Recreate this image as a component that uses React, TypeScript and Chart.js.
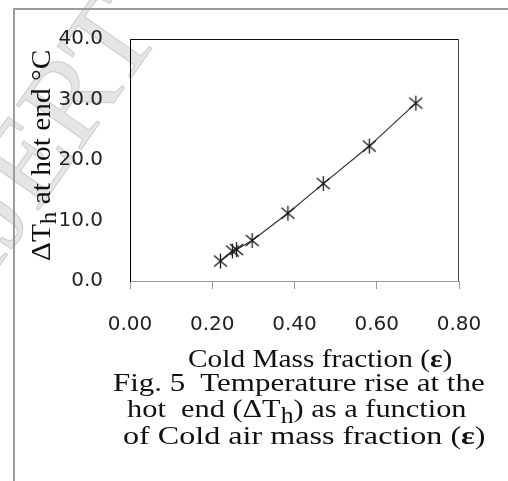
import React, { useEffect, useLayoutEffect, useRef } from 'react';
import { Chart, registerables } from 'chart.js';

Chart.register(...registerables);

// ---- data ----
const coldMassFraction = [0.22, 0.249, 0.259, 0.297, 0.384, 0.47, 0.582, 0.695];
const deltaTh = [3.3, 4.95, 5.2, 6.7, 11.2, 16.1, 22.3, 29.4];
const xTickValues = [0, 0.2, 0.4, 0.6, 0.8];
const yTickValues = [0, 10, 20, 30, 40];
const xAxisTitle = 'Cold Mass fraction (';
const yAxisTitleTail = ' at hot end °C';
const captionLines = ['Fig. 5  Temperature rise at the', 'hot  end (ΔT', ') as a function', 'of Cold air mass fraction ('];
const watermark = 'IJERT';

function makeAsterisk(): HTMLCanvasElement {
  const s = 17;
  const c = document.createElement('canvas');
  c.width = s;
  c.height = s;
  const g = c.getContext('2d')!;
  g.strokeStyle = '#1a1a1a';
  g.lineWidth = 1.3;
  const m = s / 2;
  g.beginPath();
  g.moveTo(m, m - 7.5);
  g.lineTo(m, m + 7.5);
  g.moveTo(m - 6.5, m - 5.5);
  g.lineTo(m + 6.5, m + 5.5);
  g.moveTo(m + 6.5, m - 5.5);
  g.lineTo(m - 6.5, m + 5.5);
  g.stroke();
  return c;
}

const framePlugin = {
  id: 'plotFrame',
  beforeDatasetsDraw(chart: any) {
    const { ctx, chartArea: a } = chart;
    ctx.save();
    ctx.lineWidth = 1;
    ctx.strokeStyle = '#111';
    ctx.beginPath();
    ctx.moveTo(a.left, a.top + 0.5);
    ctx.lineTo(a.right, a.top + 0.5);
    ctx.stroke();
    ctx.strokeStyle = '#444';
    ctx.beginPath();
    ctx.moveTo(a.right - 0.5, a.top);
    ctx.lineTo(a.right - 0.5, a.bottom);
    ctx.stroke();
    ctx.restore();
  },
};

const watermarkPlugin = {
  id: 'watermark',
  beforeDraw(chart: any) {
    const { ctx } = chart;
    ctx.save();
    ctx.translate(-13, 284);
    ctx.rotate((-55 * Math.PI) / 180);
    ctx.font = '120px "Liberation Serif"';
    ctx.fillStyle = 'rgba(170,170,170,0.30)';
    ctx.strokeStyle = 'rgba(150,150,150,0.40)';
    ctx.lineWidth = 1;
    ctx.textBaseline = 'alphabetic';
    ctx.fillText(watermark, 0, 0);
    ctx.strokeText(watermark, 0, 0);
    ctx.restore();
  },
};

const serif = '"Liberation Serif", "Times New Roman", serif';

function FitLine(props: { left: number; width: number; baseline: number; size: number; children: React.ReactNode }) {
  const { left, width, baseline, size, children } = props;
  const ref = useRef<HTMLDivElement | null>(null);
  useLayoutEffect(() => {
    const el = ref.current!;
    const natural = el.offsetWidth;
    el.style.transform = `scaleX(${width / natural})`;
  }, [width]);
  return (
    <div
      ref={ref}
      style={{
        position: 'absolute',
        left,
        top: baseline - 0.8375 * size,
        display: 'inline-block',
        fontFamily: serif,
        fontSize: size,
        lineHeight: `${size}px`,
        whiteSpace: 'pre',
        color: '#111',
        transformOrigin: '0 0',
      }}
    >
      {children}
    </div>
  );
}

function YTitle(props: { x: number; yStart: number; length: number; size: number; children: React.ReactNode }) {
  const { x, yStart, length, size, children } = props;
  const ref = useRef<HTMLDivElement | null>(null);
  useLayoutEffect(() => {
    const el = ref.current!;
    const natural = el.offsetWidth;
    const tx = x - 0.8375 * size;
    el.style.transform = `translate(${tx}px, ${yStart}px) rotate(-90deg) scaleX(${length / natural})`;
  }, [x, yStart, length, size]);
  return (
    <div
      ref={ref}
      style={{
        position: 'absolute',
        left: 0,
        top: 0,
        display: 'inline-block',
        transformOrigin: '0 0',
        fontFamily: serif,
        fontSize: size,
        lineHeight: `${size}px`,
        whiteSpace: 'pre',
        color: '#111',
      }}
    >
      {children}
    </div>
  );
}

const subStyle: React.CSSProperties = { fontSize: '0.85em', verticalAlign: '-0.28em', lineHeight: 0 };

export default function App() {
  const canvasRef = useRef<HTMLCanvasElement | null>(null);

  useEffect(() => {
    const canvas = canvasRef.current!;
    const star = makeAsterisk();
    const chart = new Chart(canvas, {
      type: 'scatter',
      data: {
        datasets: [
          {
            data: coldMassFraction.map((x, i) => ({ x, y: deltaTh[i] })),
            showLine: true,
            borderColor: '#333',
            borderWidth: 1.2,
            pointStyle: star as any,
            pointRadius: 7,
            tension: 0,
          },
        ],
      },
      options: {
        animation: false,
        responsive: false,
        maintainAspectRatio: false,
        layout: { padding: { top: 36, right: 49, left: 0, bottom: 0 } },
        plugins: { legend: { display: false }, tooltip: { enabled: false } },
        scales: {
          x: {
            type: 'linear',
            min: 0,
            max: 0.8,
            afterBuildTicks: (s: any) => {
              s.ticks = xTickValues.map((v) => ({ value: v }));
            },
            afterFit: (s: any) => {
              s.height = 200;
            },
            grid: { display: true, drawOnChartArea: false, drawTicks: true, tickLength: 8, color: '#9a9a9a' },
            border: { display: true, color: '#9a9a9a', width: 1 },
            ticks: {
              padding: 24,
              color: '#222',
              font: { family: '"DejaVu Sans"', size: 20 },
              maxRotation: 0,
              autoSkip: false,
              callback: (v: any) => Number(v).toFixed(2),
            },
          },
          y: {
            type: 'linear',
            min: 0,
            max: 40,
            afterBuildTicks: (s: any) => {
              s.ticks = yTickValues.map((v) => ({ value: v }));
            },
            afterFit: (s: any) => {
              s.width = 130;
            },
            grid: { display: false, drawTicks: false },
            border: { display: true, color: '#000', width: 1 },
            ticks: {
              padding: 27,
              color: '#222',
              font: { family: '"DejaVu Sans"', size: 20 },
              autoSkip: false,
              callback: (v: any) => Number(v).toFixed(1),
            },
          },
        },
      },
      plugins: [watermarkPlugin, framePlugin],
    });
    return () => chart.destroy();
  }, []);

  return (
    <div style={{ position: 'absolute', left: 0, top: 0, width: 508, height: 481, overflow: 'hidden', background: '#fff' }}>
      <canvas ref={canvasRef} width={508} height={481} style={{ position: 'absolute', left: 0, top: 0 }} />
      <div
        style={{
          position: 'absolute',
          left: 13,
          top: 8,
          width: 600,
          height: 600,
          borderLeft: '2px solid #9c9c9c',
          borderTop: '2px solid #9c9c9c',
        }}
      />
      <YTitle x={50} yStart={261} length={211} size={28}>
        ΔT<span style={subStyle}>h</span>
        {yAxisTitleTail}
      </YTitle>
      <FitLine left={188} width={264} baseline={368} size={26}>
        {xAxisTitle}
        <b>ε</b>)
      </FitLine>
      <FitLine left={113} width={372} baseline={392} size={26}>
        {captionLines[0]}
      </FitLine>
      <FitLine left={127} width={340} baseline={418} size={26}>
        {captionLines[1]}
        <span style={subStyle}>h</span>
        {captionLines[2]}
      </FitLine>
      <FitLine left={123} width={362} baseline={445} size={26}>
        {captionLines[3]}
        <b>ε</b>)
      </FitLine>
    </div>
  );
}
